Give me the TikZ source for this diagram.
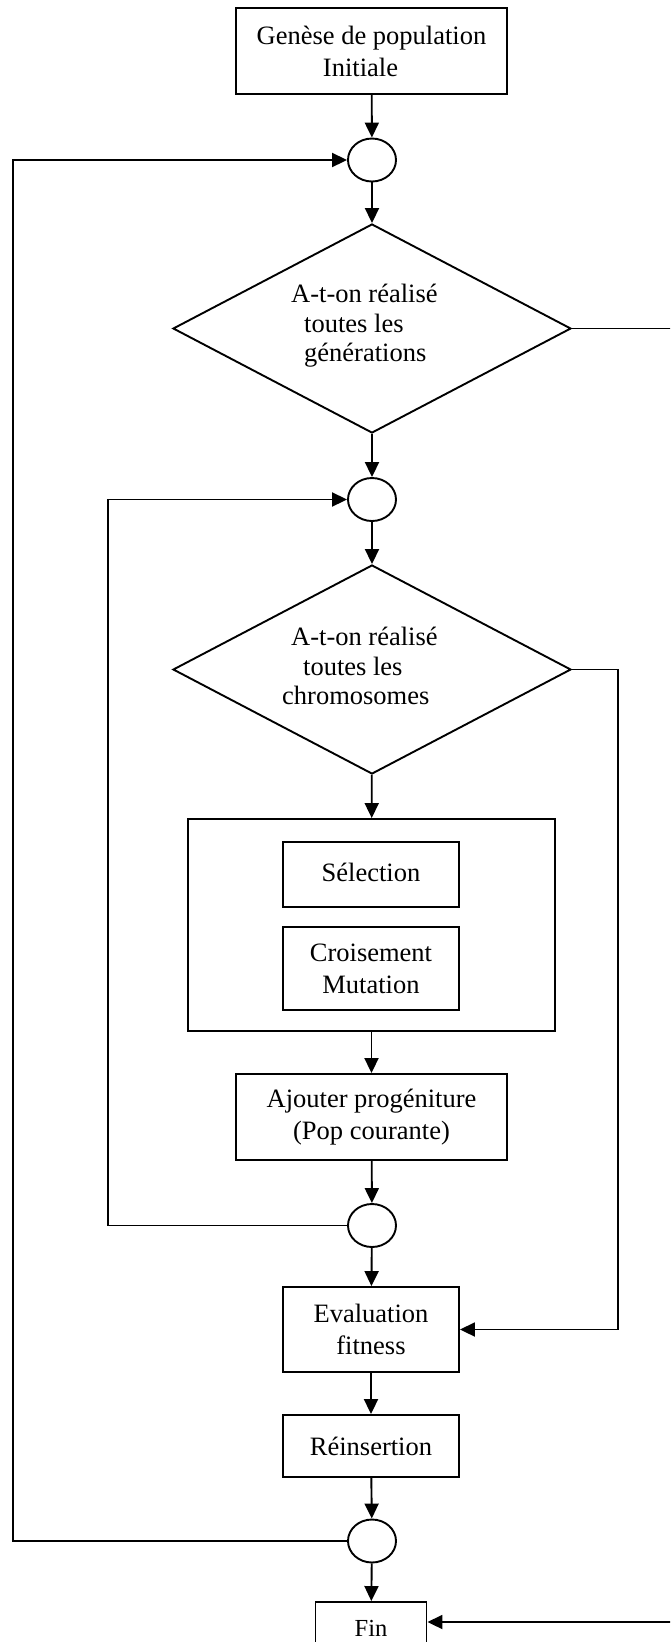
\documentclass[tikz,border=0pt]{standalone}
\usepackage{fontspec}
\setmainfont{Liberation Serif}
\usetikzlibrary{shapes.geometric,arrows.meta}
\begin{document}
\begin{tikzpicture}[x=1pt,y=-1pt,
  lw/.style={line width=1.9pt},
  txt/.style={font=\fontsize{26.5}{32}\selectfont},
  box/.style={lw,draw,rectangle,inner sep=0pt,align=center,txt},
  junction/.style={lw,draw,ellipse,inner sep=0pt,minimum width=48pt,minimum height=43pt},
  decision/.style={lw,draw,diamond,inner sep=0pt,minimum width=398pt,minimum height=209pt},
  dtext/.style={inner sep=0pt,align=left,anchor=west,font=\fontsize{26.5}{29.5}\selectfont},
  arr/.style={lw,-{Triangle[length=15pt,width=14pt]}},
  ln/.style={lw}]
\useasboundingbox (0,0) rectangle (670,1642);
\clip (0,0) rectangle (670,1642);
\fill[white] (0,0) rectangle (670,1642);

% nodes
\node[box,minimum width=271pt,minimum height=86pt] (gen) at (371.5,51) {Genèse de population\\Initiale\hspace*{22pt}};
\node[junction] (c1) at (372,160) {};
\node[decision] (d1) at (372,328.5) {};
\node[dtext] (d1t) at (291,326) {A-t-on réalisé\\\hspace*{13pt}toutes les\\\hspace*{13pt}générations};
\node[junction] (c2) at (372,499.5) {};
\node[decision] (d2) at (372,669.5) {};
\node[dtext] (d2t) at (282,666) {\hspace*{9pt}A-t-on réalisé\\\hspace*{21pt}toutes les\\chromosomes};
\node[box,minimum width=367pt,minimum height=212pt] (grp) at (371.5,925) {};
\node[box,minimum width=176pt,minimum height=65pt] (sel) at (371,874.5) {\raisebox{5pt}{Sélection}};
\node[box,minimum width=176pt,minimum height=83pt] (cro) at (371,968.5) {Croisement\\Mutation};
\node[box,minimum width=271pt,minimum height=86pt] (aj) at (371.5,1117) {Ajouter progéniture\\(Pop courante)};
\node[junction] (c3) at (372,1225.5) {};
\node[box,minimum width=176pt,minimum height=85pt] (ev) at (371,1329.5) {Evaluation\\fitness};
\node[box,minimum width=176pt,minimum height=62pt] (re) at (371,1446) {Réinsertion};
\node[junction] (c4) at (372,1541) {};
\node[box,minimum width=111pt,minimum height=52pt,font=\fontsize{24.5}{28}\selectfont] (fin) at (371,1628) {Fin};

% helper coordinates
\coordinate (l1) at (13,160);
\coordinate (l2) at (108,499.5);
\coordinate (r2) at (618,1329.5);
\coordinate (r1) at (678,1622);

% main flow
\draw[arr] (gen) -- (c1);
\draw[arr] (c1) -- (d1);
\draw[arr] (d1) -- (c2);
\draw[arr] (c2) -- (d2);
\draw[arr] (d2) -- (grp);
\draw[arr] (grp) -- (aj);
\draw[arr] (aj) -- (c3);
\draw[arr] (c3) -- (ev);
\draw[arr] (ev) -- (re);
\draw[arr] (re) -- (c4);
\draw[arr] (c4) -- (fin);

% loops
\draw[arr] (c4.west) -| (l1) -- (c1.west);
\draw[arr] (c3.west) -| (l2) -- (c2.west);
\draw[arr] (d2.east) -| (r2) -- (ev.east);
\draw[arr] (d1.east) -| (r1) -- (fin.east |- r1);
\end{tikzpicture}
\end{document}
